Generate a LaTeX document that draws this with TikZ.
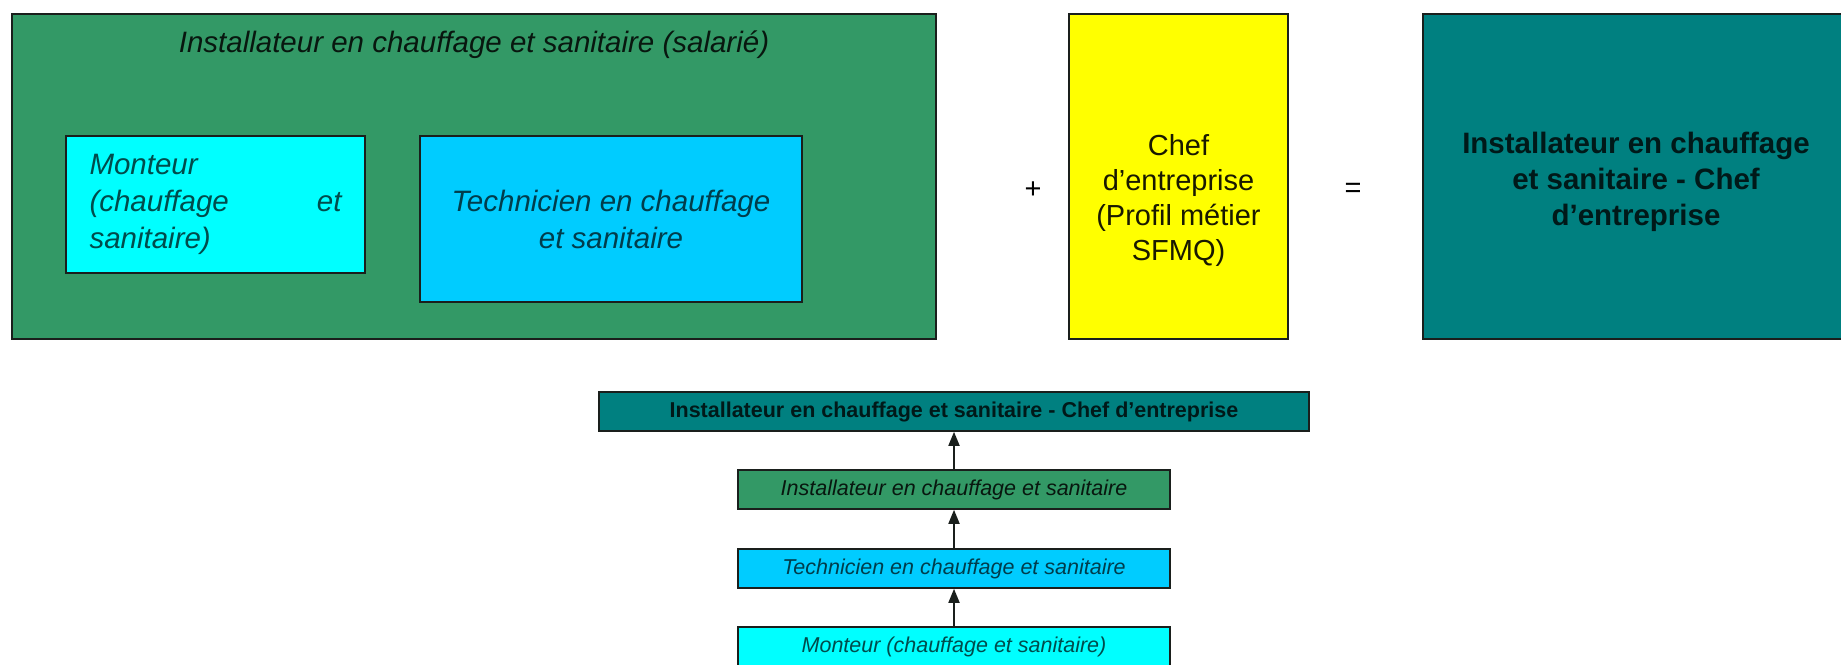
\documentclass[tikz,border=0pt]{standalone}
\usepackage{fontspec}
\setmainfont{Liberation Sans}
\usetikzlibrary{arrows.meta}

\definecolor{vertMetier}{HTML}{339966}
\definecolor{cyanMetier}{HTML}{00FFFF}
\definecolor{bleuMetier}{HTML}{00CCFF}
\definecolor{jauneMetier}{HTML}{FFFF00}
\definecolor{sarcelle}{HTML}{008080}
\definecolor{bord}{HTML}{1A1F1C}

\begin{document}
\begin{tikzpicture}[
        x=1pt, y=-1pt,
        every node/.style={font=\fontsize{29}{35}\selectfont, inner sep=0pt},
        cadre/.style={draw=bord, line width=1.6pt},
        barre/.style={cadre, minimum height=39pt, font=\fontsize{21.5}{25}\selectfont\itshape},
        fleche/.style={-{Triangle[length=14pt,width=11pt]}, line width=1.8pt, draw=bord}
    ]
    \useasboundingbox (0,0) rectangle (1841,664);

    % Installateur (salarie)
    \node[cadre, fill=vertMetier, minimum width=924pt, minimum height=325pt] (installateur) at (474,176.5) {};
    \node[font=\fontsize{29.5}{35}\selectfont\itshape, text=black!85!vertMetier] (titre) at (474,45) {Installateur en chauffage et sanitaire (salarié)};
    \node[cadre, fill=cyanMetier, minimum width=299pt, minimum height=137pt, text width=252pt, align=left,
          font=\fontsize{29.5}{37}\selectfont\itshape, text=black!70!cyanMetier] (monteur) at (215.5,204.5)
          {Monteur\\(chauffage\hfill et\\sanitaire)};
    \node[cadre, fill=bleuMetier, minimum width=382pt, minimum height=166pt, align=center,
          font=\fontsize{29.5}{37}\selectfont\itshape, text=black!70!bleuMetier] (technicien) at (611,219)
          {Technicien en chauffage\\et sanitaire};

    % Chef d'entreprise
    \node (plus) at (1033,190) {+};
    \node[cadre, fill=jauneMetier, minimum width=219pt, minimum height=325pt] (chef) at (1178.5,176.5) {};
    \node[align=center, text=black!90!jauneMetier] (chefTexte) at (1178.5,200) {Chef\\d'entreprise\\(Profil métier\\SFMQ)};
    \node (egal) at (1353,190) {=};

    % Resultat
    \node[cadre, fill=sarcelle, minimum width=426pt, minimum height=325pt] (resultat) at (1636,176.5) {};
    \node[align=center, font=\fontsize{29.5}{36}\selectfont\bfseries, text=black!80!sarcelle] (resultatTexte) at (1636,182)
          {Installateur en chauffage\\et sanitaire - Chef\\d'entreprise};

    % Parcours
    \node[barre, fill=sarcelle, minimum width=710pt, font=\fontsize{21.5}{25}\selectfont\bfseries, text=black!80!sarcelle] (barreChef) at (954,411.5) {Installateur en chauffage et sanitaire - Chef d'entreprise};
    \node[barre, fill=vertMetier, minimum width=432pt, text=black!85!vertMetier] (barreInstallateur) at (954,489.5) {Installateur en chauffage et sanitaire};
    \node[barre, fill=bleuMetier, minimum width=432pt, text=black!70!bleuMetier] (barreTechnicien) at (954,568.5) {Technicien en chauffage et sanitaire};
    \node[barre, fill=cyanMetier, minimum width=432pt, text=black!70!cyanMetier] (barreMonteur) at (954,646.5) {Monteur (chauffage et sanitaire)};

    \draw[fleche] (barreMonteur) -- (barreTechnicien);
    \draw[fleche] (barreTechnicien) -- (barreInstallateur);
    \draw[fleche] (barreInstallateur) -- (barreChef);
\end{tikzpicture}
\end{document}
